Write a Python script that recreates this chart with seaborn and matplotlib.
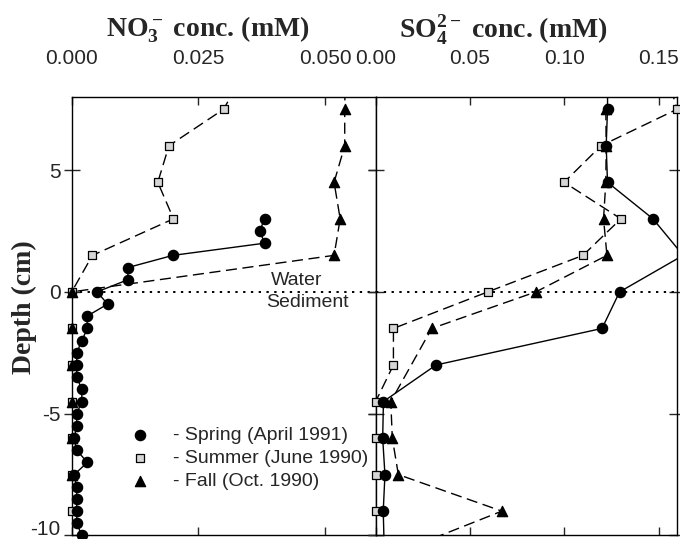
import matplotlib
matplotlib.use("Agg")
import matplotlib.pyplot as plt
import numpy as np
import pandas as pd
import seaborn as sns

# ---- data ----
seasons = ["Spring", "Summer", "Fall"]
legend_labels = ["- Spring (April 1991)", "- Summer (June 1990)", "- Fall (Oct. 1990)"]

# NO3 panel
no3_spring_depth = [3.0, 2.5, 2.0, 1.5, 1.0, 0.5, 0.0, -0.5, -1.0, -1.5, -2.0, -2.5, -3.0, -3.5,
                    -4.0, -4.5, -5.0, -5.5, -6.0, -6.5, -7.0, -7.5, -8.0, -8.5, -9.0, -9.5, -10.0]
no3_spring_conc = [0.0381, 0.0371, 0.0381, 0.0200, 0.0111, 0.0111, 0.0050, 0.0071, 0.0030, 0.0031,
                   0.0020, 0.0010, 0.0010, 0.0010, 0.0020, 0.0020, 0.0010, 0.0010, 0.0005, 0.0010,
                   0.0031, 0.0005, 0.0010, 0.0010, 0.0010, 0.0010, 0.0020]
no3_summer_depth = [9.0, 7.5, 6.0, 4.5, 3.0, 1.5, 0.0, -1.5, -3.0, -4.5, -6.0, -7.5, -9.0]
no3_summer_conc = [0.0340, 0.0300, 0.0192, 0.0170, 0.0201, 0.0041, 0.0, 0.0, 0.0, 0.0, 0.0, 0.0, 0.0]
no3_fall_depth = [9.0, 7.5, 6.0, 4.5, 3.0, 1.5, 0.0, -1.5, -3.0, -4.5, -6.0, -7.5]
no3_fall_conc = [0.0540, 0.0539, 0.0539, 0.0518, 0.0530, 0.0518, 0.0, 0.0, 0.0, 0.0, 0.0, 0.0]

# SO4 panel
so4_spring_depth = [9.0, 7.5, 6.0, 4.5, 3.0, 1.5, 0.0, -1.5, -3.0, -4.5, -6.0, -7.5, -9.0, -10.5]
so4_spring_conc = [0.123, 0.1229, 0.1222, 0.1229, 0.147, 0.163, 0.1293, 0.1200, 0.0320, 0.0041,
                   0.0037, 0.0049, 0.0040, 0.0045]
so4_summer_depth = [9.0, 7.5, 6.0, 4.5, 3.0, 1.5, 0.0, -1.5, -3.0, -4.5, -6.0, -7.5, -9.0]
so4_summer_conc = [0.154, 0.1598, 0.1195, 0.0999, 0.130, 0.1099, 0.0594, 0.0094, 0.0094,
                   0.0, 0.0, 0.0, 0.0]
so4_fall_depth = [7.5, 6.0, 4.5, 3.0, 1.5, 0.0, -1.5, -4.5, -6.0, -7.5, -9.0, -10.5]
so4_fall_conc = [0.122, 0.1222, 0.122, 0.1208, 0.1226, 0.0849, 0.0297, 0.0080, 0.0088, 0.0120,
                 0.0669, 0.018]

no3_ticks = [0.0, 0.025, 0.05]
no3_ticklabels = ["0.000", "0.025", "0.050"]
so4_ticks = [0.0, 0.05, 0.10, 0.15]
so4_ticklabels = ["0.00", "0.05", "0.10", "0.15"]
depth_ticks = [5, 0, -5, -10]
depth_ticklabels = ["5", "0", "-5", "-10"]

sns.set_style("ticks")
plt.rcParams["font.family"] = ["Liberation Sans", "DejaVu Sans"]
plt.rcParams["mathtext.fontset"] = "custom"
plt.rcParams["mathtext.rm"] = "Liberation Serif:bold"
plt.rcParams["mathtext.it"] = "Liberation Serif:bold"
plt.rcParams["mathtext.bf"] = "Liberation Serif:bold"
plt.rcParams["axes.edgecolor"] = "black"
plt.rcParams["axes.linewidth"] = 1.0

styles = {
    "Spring": dict(marker="o", s=55, face="black", ls="-"),
    "Summer": dict(marker="s", s=30, face="#d6d6d6", ls=(0, (8, 4))),
    "Fall": dict(marker="^", s=55, face="black", ls=(0, (8, 4))),
}
draw_order = ["Summer", "Spring", "Fall"]


def make_frame(depths, concs):
    frames = []
    for name, d, c in zip(seasons, depths, concs):
        frames.append(pd.DataFrame({"season": name, "depth": d, "conc": c}))
    return pd.concat(frames, ignore_index=True)


no3 = make_frame([no3_spring_depth, no3_summer_depth, no3_fall_depth],
                 [no3_spring_conc, no3_summer_conc, no3_fall_conc])
so4 = make_frame([so4_spring_depth, so4_summer_depth, so4_fall_depth],
                 [so4_spring_conc, so4_summer_conc, so4_fall_conc])

fig = plt.figure(figsize=(6.8, 5.39), dpi=100)
ax1 = fig.add_axes([0.1054, 0.0065, 0.447, 0.8135])
ax2 = fig.add_axes([0.5525, 0.0065, 0.4438, 0.8135])


def draw_panel(ax, df, xmax):
    handles = {}
    for name in seasons:
        sub = df[df.season == name]
        sns.lineplot(data=sub, x="conc", y="depth", sort=False, estimator=None,
                     color="black", lw=1.0, linestyle=styles[name]["ls"], ax=ax)
    for name in draw_order:
        sub = df[(df.season == name) & (df.conc <= xmax * 1.003) & (df.depth >= -10.05)
                 & (df.depth <= 8.0)]
        st = styles[name]
        sns.scatterplot(data=sub, x="conc", y="depth", marker=st["marker"], s=st["s"],
                        color=st["face"], edgecolor="black", linewidth=0.9,
                        clip_on=False, zorder=3, ax=ax)
        handles[name] = ax.collections[-1]
    ax.axhline(0, color="black", lw=1.4, ls=(0, (1.2, 2.8)), zorder=1)
    ax.set_xlim(0, xmax)
    ax.set_ylim(-10, 8)
    ax.set_xlabel("")
    ax.set_ylabel("")
    ax.xaxis.tick_top()
    ax.tick_params(axis="x", top=True, bottom=True, direction="in", length=6,
                   labelsize=15, pad=21, width=1)
    ax.tick_params(axis="y", left=True, right=True, direction="inout", length=12,
                   labelsize=15, pad=2, width=1)
    ax.set_yticks(depth_ticks, labels=depth_ticklabels)
    return handles


h = draw_panel(ax1, no3, 0.06)
draw_panel(ax2, so4, 0.16)

ax1.set_xticks(no3_ticks, labels=no3_ticklabels)
ax2.set_xticks(so4_ticks, labels=so4_ticklabels)
ax2.tick_params(axis="y", labelleft=False)
# bottom label sits on its baseline so it stays inside the figure
ax1.get_yticklabels()[-1].set_va("baseline")

ax1.set_ylabel("Depth (cm)", fontfamily="Liberation Serif", fontweight="bold", fontsize=20)
ax1.yaxis.set_label_coords(-0.115, 0.52)

ax1.text(0.0444, 0.48, "Water", ha="center", va="center", fontsize=14)
ax1.text(0.0465, -0.42, "Sediment", ha="center", va="center", fontsize=14)

ax1.legend([h[n] for n in seasons], legend_labels, loc="center left",
           bbox_to_anchor=(0.192, 0.177), frameon=False, fontsize=14,
           handlelength=1.0, handletextpad=1.2, borderpad=0, borderaxespad=0,
           labelspacing=0.28)

fig.text(0.306, 0.944, "NO$_3^-$ conc. (mM)", ha="center", va="center", fontsize=20,
         fontfamily="Liberation Serif", fontweight="bold")
fig.text(0.74, 0.944, "SO$_4^{2-}$ conc. (mM)", ha="center", va="center", fontsize=20,
         fontfamily="Liberation Serif", fontweight="bold")

fig.savefig("out.png", dpi=100)
